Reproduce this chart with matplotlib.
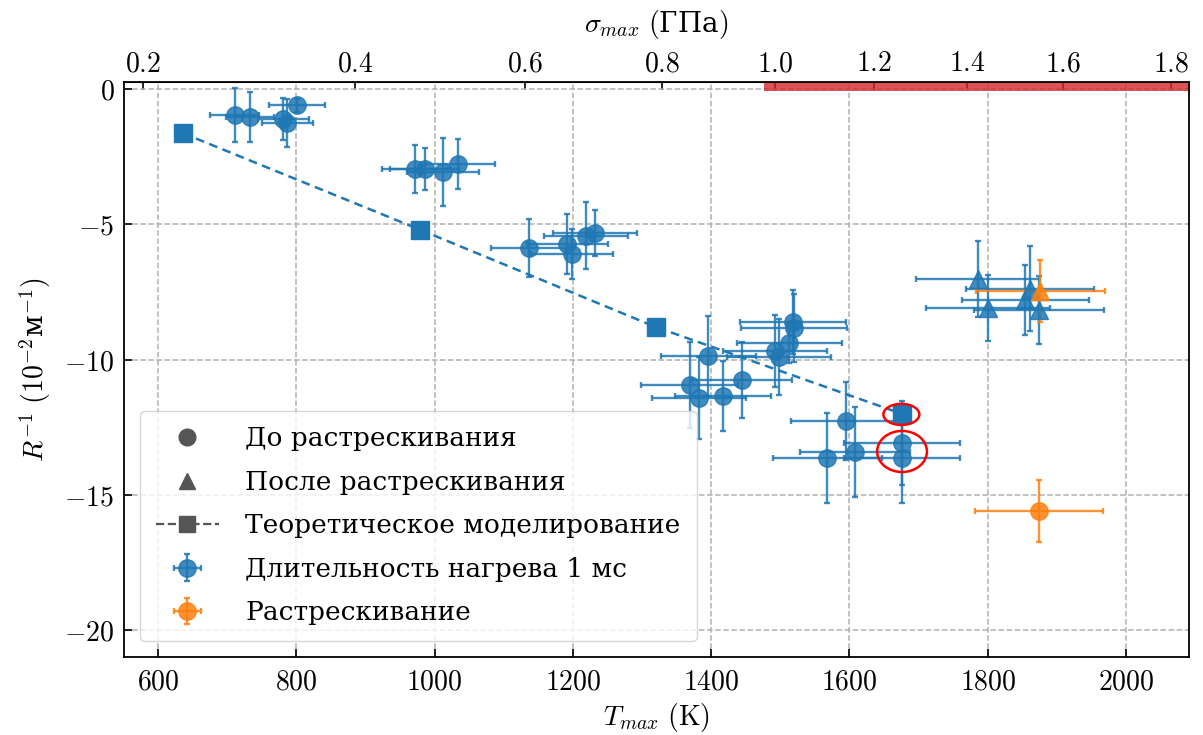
import numpy as np
import matplotlib
matplotlib.use("Agg")
import matplotlib.pyplot as plt
from matplotlib.lines import Line2D
from matplotlib.patches import Ellipse
from matplotlib.ticker import FuncFormatter, FixedLocator

plt.rcParams["font.family"] = ["DejaVu Serif"]
plt.rcParams["mathtext.fontset"] = "cm"
plt.rcParams["font.size"] = 20

# --- 1 ms heating, before cracking (circles) ---
T_before = [711, 733, 781, 787, 801,
            972, 986, 1012, 1034,
            1137, 1192, 1199, 1219, 1232,
            1369, 1383, 1396, 1417, 1445,
            1492, 1498, 1513, 1518, 1520,
            1568, 1595, 1608, 1676, 1676]
R_before = [-0.96, -1.04, -1.11, -1.26, -0.60,
            -2.96, -2.96, -3.07, -2.77,
            -5.88, -5.73, -6.10, -5.43, -5.32,
            -10.94, -11.42, -9.87, -11.35, -10.76,
            -9.69, -9.90, -9.39, -8.61, -8.84,
            -13.64, -12.27, -13.42, -13.09, -13.64]
T_before_err = [35, 35, 37, 37, 41,
                48, 50, 52, 54,
                56, 59, 59, 61, 61,
                70, 68, 69, 70, 72,
                75, 75, 76, 77, 77,
                79, 80, 80, 84, 84]
R_before_err = [1.00, 0.93, 0.78, 0.90, 0.25,
                0.90, 0.77, 1.25, 0.92,
                1.07, 1.10, 0.92, 1.24, 0.85,
                1.58, 1.52, 1.49, 1.29, 1.40,
                1.33, 1.40, 0.73, 1.18, 1.25,
                1.65, 1.45, 1.68, 1.56, 1.65]

# --- 1 ms heating, after cracking (triangles) ---
T_after = [1786, 1800, 1854, 1861, 1874]
R_after = [-7.02, -8.10, -7.80, -7.39, -8.17]
T_after_err = [90, 90, 92, 92, 94]
R_after_err = [1.40, 1.22, 1.30, 1.57, 1.27]

# --- cracking sample ---
T_crack_before = [1874]
R_crack_before = [-15.60]
T_crack_before_err = [93]
R_crack_before_err = [1.15]
T_crack_after = [1876]
R_crack_after = [-7.47]
T_crack_after_err = [93]
R_crack_after_err = [1.15]

# --- simulation ---
T_model = [636, 979, 1320, 1676]
R_model = [-1.63, -5.20, -8.80, -12.01]

# --- highlighted points (centre T, centre R, width K, height) ---
ring_T = [1675, 1676]
ring_R = [-12.03, -13.40]
ring_w = [52, 72]
ring_h = [0.78, 1.52]

# --- stress range above the strength limit ---
band_T = [1476, 2091]
band_R = [-0.07, 0.40]

# --- stress scale: T positions of the sigma ticks ---
sigma_ticks = [0.2, 0.4, 0.6, 0.8, 1.0, 1.2, 1.4, 1.6, 1.8]
T_at_sigma = [578, 885, 1131, 1329, 1492, 1636, 1770, 1909, 2065]

T_ticks = [600, 800, 1000, 1200, 1400, 1600, 1800, 2000]
R_ticks = [0, -5, -10, -15, -20]

BLUE = "#1f77b4"
ORANGE = "#ff7f0e"
ALPHA = 0.85


def interp_ext(x, xp, fp):
    x = np.asarray(x, dtype=float)
    xp = np.asarray(xp, dtype=float)
    fp = np.asarray(fp, dtype=float)
    flat = np.atleast_1d(x).ravel()
    y = np.interp(flat, xp, fp)
    lo = flat < xp[0]
    hi = flat > xp[-1]
    y[lo] = fp[0] + (flat[lo] - xp[0]) * (fp[1] - fp[0]) / (xp[1] - xp[0])
    y[hi] = fp[-1] + (flat[hi] - xp[-1]) * (fp[-1] - fp[-2]) / (xp[-1] - xp[-2])
    return y.reshape(np.shape(x))


def T_to_sigma(T):
    return interp_ext(T, T_at_sigma, sigma_ticks)


def sigma_to_T(s):
    return interp_ext(s, sigma_ticks, T_at_sigma)


fig = plt.figure(figsize=(12.03, 7.35), dpi=100)
ax = fig.add_axes([0.1031, 0.1061, 0.8853, 0.7823])

eb_kw = dict(elinewidth=1.7, capsize=2.5, capthick=1.7, alpha=ALPHA,
             linestyle="none", zorder=3)

ax.fill_between(band_T, band_R[0], band_R[1], color="#d62728", alpha=0.8,
                linewidth=0, zorder=2)

eb_blue = ax.errorbar(T_before, R_before, xerr=T_before_err, yerr=R_before_err,
                      fmt="o", ms=12.5, color=BLUE, **eb_kw)
ax.errorbar(T_after, R_after, xerr=T_after_err, yerr=R_after_err,
            fmt="^", ms=13, color=BLUE, **eb_kw)
ax.errorbar(T_crack_after, R_crack_after, xerr=T_crack_after_err,
            yerr=R_crack_after_err, fmt="^", ms=13, color=ORANGE, **eb_kw)
eb_orange = ax.errorbar(T_crack_before, R_crack_before, xerr=T_crack_before_err,
                        yerr=R_crack_before_err, fmt="o", ms=12.5, color=ORANGE,
                        **eb_kw)

ax.plot(T_model, R_model, ls=(0, (3.5, 2.2)), lw=1.8, color=BLUE, marker="s",
        ms=12.5, zorder=4)

for t, r, w, h in zip(ring_T, ring_R, ring_w, ring_h):
    ax.add_patch(Ellipse((t, r), w, h, fill=False, edgecolor="red", lw=1.8,
                         zorder=5))

ax.set_xlim(551, 2091)
ax.set_ylim(-21.0, 0.26)
ax.xaxis.set_major_locator(FixedLocator(T_ticks))
ax.yaxis.set_major_locator(FixedLocator(R_ticks))
ax.xaxis.set_major_formatter(FuncFormatter(lambda v, p: f"${v:.0f}$"))
ax.yaxis.set_major_formatter(FuncFormatter(lambda v, p: f"${v:.0f}$"))
ax.tick_params(direction="in", length=6, width=1.2, top=False, right=False,
               labelsize=20)
ax.tick_params(axis="x", pad=8)
ax.tick_params(axis="y", pad=7)
ax.grid(True, ls="--", lw=1.1, color="#b0b0b0", zorder=0)
ax.set_axisbelow(True)
for sp in ax.spines.values():
    sp.set_linewidth(1.3)

ax.set_xlabel(r"$T_{max}\ (\mathrm{K})$", fontsize=20, labelpad=4)
ax.set_ylabel(r"$R^{-1}\ (10^{-2}$м$^{-1})$", fontsize=20, labelpad=8)

sec = ax.secondary_xaxis("top", functions=(T_to_sigma, sigma_to_T))
sec.xaxis.set_major_locator(FixedLocator(sigma_ticks))
sec.xaxis.set_major_formatter(FuncFormatter(lambda v, p: f"${v:.1f}$"))
sec.tick_params(direction="in", length=6, width=1.2, labelsize=20)
sec.set_xlabel(r"$\sigma_{max}\ ($ГПа$)$", fontsize=20, labelpad=13)

gray = "#555555"
handles = [
    Line2D([], [], marker="o", color=gray, ls="none", ms=12),
    Line2D([], [], marker="^", color=gray, ls="none", ms=12),
    Line2D([], [], marker="s", color=gray, ls="--", lw=1.6, ms=12),
    eb_blue,
    eb_orange,
]
labels = [
    "До растрескивания",
    "После растрескивания",
    "Теоретическое моделирование",
    "Длительность нагрева 1 мс",
    "Растрескивание",
]
ax.legend(handles, labels, loc="lower left", fontsize=19, handlelength=2.4,
          handletextpad=1.0, labelspacing=0.70, borderpad=0.6,
          borderaxespad=0.6, framealpha=0.8)

fig.savefig("out.png", dpi=100)
